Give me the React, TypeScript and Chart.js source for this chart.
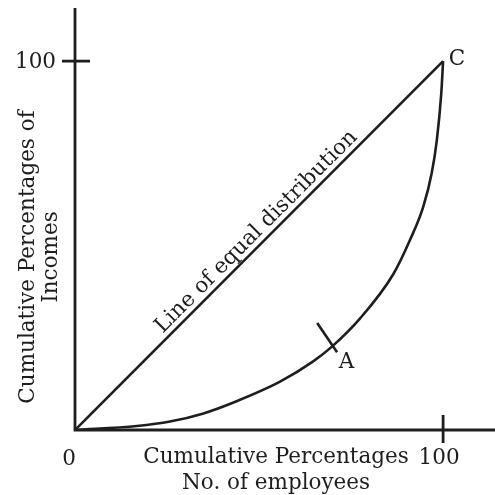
import React, { useEffect, useRef } from "react";
import { Chart, registerables } from "chart.js";

Chart.register(...registerables);

// Data (percent values)
const equalLineX = [0, 100];
const equalLineY = [0, 100];
const lorenzX = [0, 16.8, 25.8, 34.9, 43.9, 55.7, 64.7, 69.8, 77.4, 86.5, 91.0, 94.6, 96.9, 98.3, 99.5, 100];
const lorenzY = [0, 1.1, 2.3, 4.5, 7.8, 13.1, 18.6, 22.6, 30.2, 42.3, 51.5, 60.5, 69.6, 78.6, 91.2, 100];
const markX = [65.8, 71.2];
const markY = [29, 21.1];
const axisTickValues = [100];
const pointLabels = [
  { text: "C", x: 100, y: 100, dx: 14, dy: -2 },
  { text: "A", x: 70.5, y: 22, dx: 12, dy: 14 },
];
const diagonalLabel = "Line of equal distribution";
const xTitle = ["Cumulative Percentages", "No. of employees"];
const yTitle = ["Cumulative Percentages of", "Incomes"];

const FONT = "'DejaVu Serif', 'Liberation Serif', serif";
const INK = "#1e1e1e";

const drawPlugin = {
  id: "lorenzDecor",
  afterDatasetsDraw(chart: any) {
    const { ctx, chartArea, scales } = chart;
    const xs = scales.x;
    const ys = scales.y;
    const x0 = xs.getPixelForValue(0);
    const y0 = ys.getPixelForValue(0);
    ctx.save();
    ctx.strokeStyle = INK;
    ctx.fillStyle = INK;
    ctx.lineWidth = 2.8;
    ctx.lineCap = "butt";
    // axes
    ctx.beginPath();
    ctx.moveTo(x0, chartArea.top);
    ctx.lineTo(x0, y0);
    ctx.lineTo(chartArea.right, y0);
    ctx.stroke();
    // cross ticks
    for (const v of axisTickValues) {
      const py = ys.getPixelForValue(v);
      ctx.beginPath();
      ctx.moveTo(x0 - 13, py);
      ctx.lineTo(x0 + 15, py);
      ctx.stroke();
      const px = xs.getPixelForValue(v);
      ctx.beginPath();
      ctx.moveTo(px, y0 - 15);
      ctx.lineTo(px, y0 + 13);
      ctx.stroke();
    }
    ctx.font = `21.5px ${FONT}`;
    ctx.textBaseline = "middle";
    // tick labels
    ctx.textAlign = "right";
    for (const v of axisTickValues) {
      ctx.fillText(String(v), x0 - 19, ys.getPixelForValue(v) + 1);
    }
    ctx.textAlign = "center";
    ctx.fillText("0", x0 - 6, y0 + 29);
    for (const v of axisTickValues) {
      ctx.fillText(String(v), xs.getPixelForValue(v) - 4, y0 + 28);
    }
    // point labels
    for (const p of pointLabels) {
      ctx.fillText(p.text, xs.getPixelForValue(p.x) + p.dx, ys.getPixelForValue(p.y) + p.dy);
    }
    // x title
    const xc = (x0 + xs.getPixelForValue(100)) / 2 + 17;
    ctx.fillText(xTitle[0], xc, y0 + 27);
    ctx.fillText(xTitle[1], xc, y0 + 53);
    // y title
    ctx.save();
    ctx.translate(28, 257);
    ctx.rotate(-Math.PI / 2);
    ctx.fillText(yTitle[0], 0, 0);
    ctx.fillText(yTitle[1], 0, 23);
    ctx.restore();
    // diagonal label
    const ax = xs.getPixelForValue(equalLineX[0]);
    const ay = ys.getPixelForValue(equalLineY[0]);
    const bx = xs.getPixelForValue(equalLineX[1]);
    const by = ys.getPixelForValue(equalLineY[1]);
    const ang = Math.atan2(by - ay, bx - ax);
    const mx = ax + (bx - ax) * 0.515;
    const my = ay + (by - ay) * 0.515;
    ctx.save();
    ctx.translate(mx, my);
    ctx.rotate(ang);
    ctx.textBaseline = "alphabetic";
    ctx.fillText(diagonalLabel, 0, -6);
    ctx.restore();
    ctx.restore();
  },
};

export default function App() {
  const ref = useRef<HTMLCanvasElement>(null);
  useEffect(() => {
    if (!ref.current) return;
    const toPts = (xs: number[], ys: number[]) => xs.map((x, i) => ({ x, y: ys[i] }));
    const chart = new Chart(ref.current, {
      type: "scatter",
      data: {
        datasets: [
          {
            data: toPts(equalLineX, equalLineY),
            showLine: true,
            borderColor: INK,
            borderWidth: 2.6,
            pointRadius: 0,
          },
          {
            data: toPts(lorenzX, lorenzY),
            showLine: true,
            borderColor: INK,
            borderWidth: 2.6,
            pointRadius: 0,
            cubicInterpolationMode: "monotone",
          },
          {
            data: toPts(markX, markY),
            showLine: true,
            borderColor: INK,
            borderWidth: 2.6,
            pointRadius: 0,
          },
        ],
      },
      options: {
        animation: false,
        responsive: false,
        maintainAspectRatio: false,
        layout: { padding: { left: 75, top: 8, right: 0, bottom: 65 } },
        plugins: { legend: { display: false }, tooltip: { enabled: false } },
        scales: {
          x: { type: "linear", min: 0, max: 114.1, display: false },
          y: { type: "linear", min: 0, max: 114.4, display: false },
        },
      },
      plugins: [drawPlugin],
    } as any);
    return () => chart.destroy();
  }, []);
  return (
    <div style={{ position: "fixed", left: 0, top: 0, width: 495, height: 495, background: "#fff" }}>
      <canvas ref={ref} width={495} height={495} style={{ width: 495, height: 495 }} />
    </div>
  );
}
